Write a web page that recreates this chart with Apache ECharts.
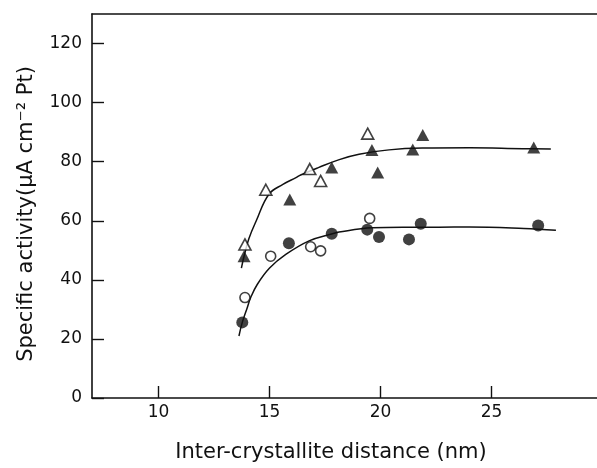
<!DOCTYPE html>
<html>
<head>
<meta charset="utf-8">
<script src="https://cdn.jsdelivr.net/npm/echarts@6/dist/echarts.min.js"></script>
<style>html,body{margin:0;padding:0;background:#fff;}#c{width:597px;height:468px;}</style>
</head>
<body>
<div id="c"></div>
<script>
// Data
const xTicks = [10, 15, 20, 25];
const yTicks = [0, 20, 40, 60, 80, 100, 120];
const openTriangles = [[13.89,52],[14.83,70.5],[16.81,77.5],[17.30,73.5],[19.42,89.5]];
const filledTriangles = [[13.85,48],[15.91,67.2],[17.80,78],[19.61,84],[19.87,76.3],[21.45,84.1],[21.90,89],[26.90,84.8]];
const openCircles = [[13.89,34],[15.05,48],[16.85,51.2],[17.30,49.8],[19.51,60.8]];
const filledCircles = [[13.77,25.6],[15.87,52.4],[17.80,55.6],[19.40,57],[19.93,54.5],[21.28,53.7],[21.81,59],[27.10,58.4]];
const upperCurve = [[13.73,44],[13.85,48],[14.07,54],[14.4,60],[14.97,69],[15.6,72.3],[16.19,74.6],[16.4,75.5],[17.2,78],[18.14,80.7],[19.03,82.5],[20.38,84],[21.88,84.6],[24,84.7],[26.4,84.4],[27.67,84.3]];
const lowerCurve = [[13.62,21],[13.77,25.6],[13.99,30.5],[14.15,34],[14.45,38.5],[15.0,44],[15.73,48.6],[16.78,53.2],[17.83,55.6],[18.13,56.2],[19.63,57.6],[21,57.8],[22.63,57.8],[24,57.9],[26.46,57.4],[27.9,56.8]];

const chart = echarts.init(document.getElementById('c'), null, {renderer: 'canvas'});
const font = 'DejaVu Sans, Verdana, sans-serif';
const black = '#111';

chart.setOption({
  animation: false,
  backgroundColor: '#fff',
  grid: {left: 92, right: 0, top: 14, bottom: 65, containLabel: false},
  xAxis: [{
    type: 'value', min: 7, max: 29.75, position: 'bottom',
    name: 'Inter-crystallite distance (nm)', nameLocation: 'middle', nameGap: 44,
    nameTextStyle: {fontFamily: font, fontSize: 21, color: black, padding: [0, 27, 0, 0]},
    axisLine: {show: true, lineStyle: {color: black, width: 1.6}},
    axisTick: {show: true, inside: true, length: 12, customValues: xTicks, lineStyle: {color: black, width: 1.4}},
    axisLabel: {show: true, customValues: xTicks, fontFamily: font, fontSize: 17, color: black, margin: 6},
    splitLine: {show: false}
  }, {
    type: 'value', min: 7, max: 29.75, position: 'top',
    axisLine: {show: true, lineStyle: {color: black, width: 1.6}},
    axisTick: {show: false}, axisLabel: {show: false}, splitLine: {show: false}
  }],
  yAxis: {
    type: 'value', min: 0, max: 130, interval: 20,
    name: 'Specific activity(\u03bcA cm\u207b\u00b2 Pt)', nameLocation: 'middle', nameGap: 55, nameRotate: 90,
    nameTextStyle: {fontFamily: font, fontSize: 21, color: black, padding: [0, 16, 0, 0]},
    axisLine: {show: true, lineStyle: {color: black, width: 1.6}},
    axisTick: {show: true, inside: true, length: 12, lineStyle: {color: black, width: 1.4}},
    axisLabel: {fontFamily: font, fontSize: 17, color: black, margin: 10, showMaxLabel: false,
      formatter: v => (yTicks.indexOf(v) >= 0 ? String(v) : '')},
    splitLine: {show: false}
  },
  series: [
    {type: 'line', data: upperCurve, smooth: 0.4, showSymbol: false, symbol: 'none',
      lineStyle: {color: black, width: 1.5}, z: 1},
    {type: 'line', data: lowerCurve, smooth: 0.4, showSymbol: false, symbol: 'none',
      lineStyle: {color: black, width: 1.5}, z: 1},
    {type: 'scatter', data: openTriangles, symbol: 'triangle', symbolSize: [12, 11],
      itemStyle: {color: '#fff', borderColor: black, borderWidth: 1.6}, z: 3},
    {type: 'scatter', data: filledTriangles, symbol: 'triangle', symbolSize: [13, 12],
      itemStyle: {color: black, borderColor: black, borderWidth: 0}, z: 3},
    {type: 'scatter', data: openCircles, symbol: 'circle', symbolSize: 10,
      itemStyle: {color: '#fff', borderColor: black, borderWidth: 1.6}, z: 3},
    {type: 'scatter', data: filledCircles, symbol: 'circle', symbolSize: 12,
      itemStyle: {color: black, borderColor: black, borderWidth: 0}, z: 3}
  ]
});
</script>
</body>
</html>
